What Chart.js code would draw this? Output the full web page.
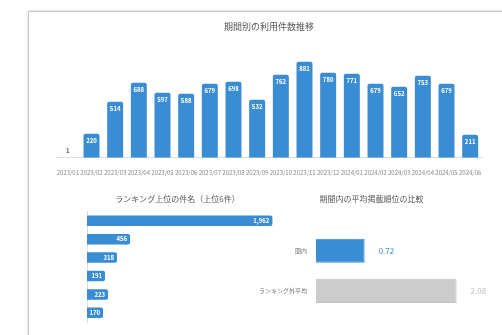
<!DOCTYPE html>
<html>
<head>
<meta charset="utf-8">
<script src="https://cdn.jsdelivr.net/npm/chart.js@4.4.1/dist/chart.umd.min.js"></script>
<style>
  body { margin: 0; background: #fff; width: 502px; height: 335px; overflow: hidden; position: relative; }
  #card { position: absolute; left: 28px; top: 11px; width: 490px; height: 340px; border: 1px solid #c4c4c4; box-shadow: 0 0 3px rgba(0,0,0,0.15); background: #fff; }
  canvas { position: absolute; }
</style>
</head>
<body>
<div id="card"></div>
<canvas id="monthChart" width="455" height="172" style="left:40px;top:12px"></canvas>
<canvas id="topicChart" width="240" height="140" style="left:40px;top:190px"></canvas>
<canvas id="rankChart" width="232" height="140" style="left:258px;top:190px"></canvas>
<script>
// data
const months = ['2023/01', '2023/02', '2023/03', '2023/04', '2023/05', '2023/06', '2023/07', '2023/08', '2023/09',
    '2023/10', '2023/11', '2023/12', '2024/01', '2024/02', '2024/03', '2024/04', '2024/05', '2024/06'];
const monthCounts = [1, 220, 514, 688, 597, 588, 679, 698, 532, 762, 881, 780, 771, 679, 652, 753, 679, 211];

const topicNames = ['件名A', '件名B', '件名C', '件名D', '件名E', '件名F'];
const topicCounts = [1962, 456, 318, 191, 223, 170];

const rankLabels = ['圏内', 'ランキング外平均'];
const rankValues = [0.72, 2.08];

const blue = '#3a8dd3';
Chart.defaults.font.family = "'Noto Sans CJK JP', 'Noto Sans', sans-serif";
Chart.defaults.color = '#666';

// draws the numbers on the bars
function labelPlugin(drawFn) {
    return {
        id: 'valueLabels',
        afterDatasetsDraw(chart) {
            const ctx = chart.ctx;
            chart.data.datasets.forEach((ds, i) => {
                chart.getDatasetMeta(i).data.forEach((bar, j) => {
                    ctx.save();
                    drawFn(ctx, bar, ds.data[j], j);
                    ctx.restore();
                });
            });
        }
    };
}

new Chart(document.getElementById('monthChart'), {
    type: 'bar',
    data: {
        labels: months,
        datasets: [{ data: monthCounts, backgroundColor: blue, borderRadius: 2, barPercentage: 0.75, categoryPercentage: 0.9 }]
    },
    options: {
        responsive: false,
        animation: false,
        layout: { padding: { left: 16, right: 13, bottom: 5 } },
        scales: {
            x: {
                grid: { display: false },
                border: { color: '#ddd' },
                ticks: { font: { size: 6 }, color: '#888', maxRotation: 0, autoSkip: false, padding: 3 }
            },
            y: { display: false, min: 0, max: 1000 }
        },
        plugins: {
            legend: { display: false },
            tooltip: { enabled: false },
            title: { display: true, text: '期間別の利用件数推移', font: { size: 9, weight: 'normal' }, color: '#555', padding: { top: 9, bottom: 17 } }
        }
    },
    plugins: [labelPlugin((ctx, bar, v) => {
        ctx.font = "bold 6px 'Noto Sans CJK JP', sans-serif";
        ctx.textAlign = 'center';
        ctx.textBaseline = 'top';
        if (bar.base - bar.y < 14) {
            ctx.fillStyle = '#666';
            ctx.textBaseline = 'bottom';
            ctx.fillText(v, bar.x, bar.y - 4);
        } else {
            ctx.fillStyle = '#fff';
            ctx.fillText(v, bar.x, bar.y + 4);
        }
    })]
});

new Chart(document.getElementById('topicChart'), {
    type: 'bar',
    data: {
        labels: topicNames,
        datasets: [{ data: topicCounts, backgroundColor: blue, borderRadius: 2, barPercentage: 0.6, categoryPercentage: 0.95 }]
    },
    options: {
        indexAxis: 'y',
        responsive: false,
        animation: false,
        layout: { padding: { left: 39, right: 4, bottom: 8 } },
        scales: {
            x: { display: false, min: 0, max: 2000 },
            y: { grid: { display: false }, border: { color: '#ddd' }, ticks: { display: false } }
        },
        plugins: {
            legend: { display: false },
            tooltip: { enabled: false },
            title: { display: true, text: 'ランキング上位の件名（上位6件）', font: { size: 8, weight: 'normal' }, color: '#555', padding: { top: 4, bottom: 8 } }
        }
    },
    plugins: [labelPlugin((ctx, bar, v) => {
        ctx.font = "bold 6px 'Noto Sans CJK JP', sans-serif";
        ctx.fillStyle = '#fff';
        ctx.textAlign = 'right';
        ctx.textBaseline = 'middle';
        ctx.fillText(v.toLocaleString(), bar.x - 3, bar.y);
    })]
});

new Chart(document.getElementById('rankChart'), {
    type: 'bar',
    data: {
        labels: rankLabels,
        datasets: [{
            data: rankValues,
            backgroundColor: [blue, '#cccccc'],
            borderColor: [blue, '#c2c2c2'],
            borderWidth: 1,
            barPercentage: 0.6,
            categoryPercentage: 1
        }]
    },
    options: {
        indexAxis: 'y',
        responsive: false,
        animation: false,
        layout: { padding: { right: 5, bottom: 19 } },
        scales: {
            x: { display: false, min: 0, max: 2.5 },
            y: { grid: { display: false }, border: { display: false }, ticks: { font: { size: 6 }, color: '#777', padding: 1 } }
        },
        plugins: {
            legend: { display: false },
            tooltip: { enabled: false },
            title: { display: true, text: '期間内の平均掲載順位の比較', font: { size: 8, weight: 'normal' }, color: '#555', padding: { top: 4, bottom: 27 } }
        }
    },
    plugins: [labelPlugin((ctx, bar, v, j) => {
        ctx.font = "8px 'Noto Sans CJK JP', sans-serif";
        ctx.fillStyle = j === 0 ? blue : '#bbb';
        ctx.textAlign = 'left';
        ctx.textBaseline = 'middle';
        ctx.fillText(v.toFixed(2), bar.x + 14, bar.y);
    })]
});
</script>
</body>
</html>
